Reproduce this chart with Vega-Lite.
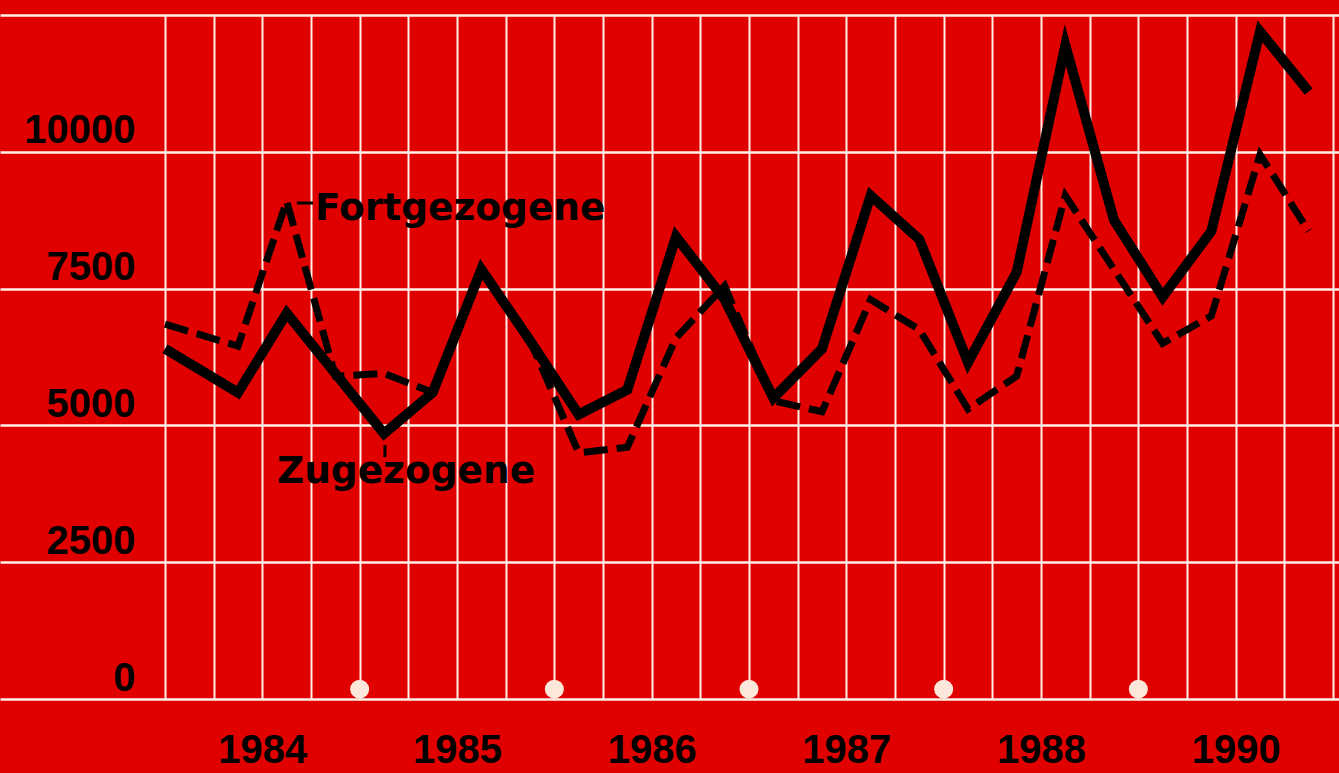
{
  "$schema": "https://vega.github.io/schema/vega-lite/v6.json",
  "width": 1339,
  "height": 684,
  "autosize": {"type": "none"},
  "padding": {"left": 0, "top": 15, "right": 0, "bottom": 74},
  "background": "#e10000",
  "config": {"view": {"stroke": null}},
  "datasets": {
    "series": [
      {"series": "Zugezogene", "t": 0, "value": 6400},
      {"series": "Zugezogene", "t": 1.5, "value": 5600},
      {"series": "Zugezogene", "t": 2.5, "value": 7050},
      {"series": "Zugezogene", "t": 3.5, "value": 5950},
      {"series": "Zugezogene", "t": 4.5, "value": 4850},
      {"series": "Zugezogene", "t": 5.5, "value": 5600},
      {"series": "Zugezogene", "t": 6.5, "value": 7850},
      {"series": "Zugezogene", "t": 7.5, "value": 6550},
      {"series": "Zugezogene", "t": 8.5, "value": 5200},
      {"series": "Zugezogene", "t": 9.5, "value": 5650},
      {"series": "Zugezogene", "t": 10.5, "value": 8450},
      {"series": "Zugezogene", "t": 11.5, "value": 7300},
      {"series": "Zugezogene", "t": 12.5, "value": 5500},
      {"series": "Zugezogene", "t": 13.5, "value": 6400},
      {"series": "Zugezogene", "t": 14.5, "value": 9200},
      {"series": "Zugezogene", "t": 15.5, "value": 8400},
      {"series": "Zugezogene", "t": 16.5, "value": 6150},
      {"series": "Zugezogene", "t": 17.5, "value": 7800},
      {"series": "Zugezogene", "t": 18.5, "value": 11950},
      {"series": "Zugezogene", "t": 19.5, "value": 8750},
      {"series": "Zugezogene", "t": 20.5, "value": 7350},
      {"series": "Zugezogene", "t": 21.5, "value": 8550},
      {"series": "Zugezogene", "t": 22.5, "value": 12200},
      {"series": "Zugezogene", "t": 23.5, "value": 11100},
      {"series": "Fortgezogene", "t": 0, "value": 6850},
      {"series": "Fortgezogene", "t": 1.5, "value": 6450},
      {"series": "Fortgezogene", "t": 2.5, "value": 9100},
      {"series": "Fortgezogene", "t": 3.5, "value": 5900},
      {"series": "Fortgezogene", "t": 4.5, "value": 5950},
      {"series": "Fortgezogene", "t": 5.5, "value": 5600},
      {"series": "Fortgezogene", "t": 6.5, "value": 7850},
      {"series": "Fortgezogene", "t": 7.5, "value": 6550},
      {"series": "Fortgezogene", "t": 8.5, "value": 4500},
      {"series": "Fortgezogene", "t": 9.5, "value": 4600},
      {"series": "Fortgezogene", "t": 10.5, "value": 6600},
      {"series": "Fortgezogene", "t": 11.5, "value": 7550},
      {"series": "Fortgezogene", "t": 12.5, "value": 5450},
      {"series": "Fortgezogene", "t": 13.5, "value": 5250},
      {"series": "Fortgezogene", "t": 14.5, "value": 7300},
      {"series": "Fortgezogene", "t": 15.5, "value": 6750},
      {"series": "Fortgezogene", "t": 16.5, "value": 5300},
      {"series": "Fortgezogene", "t": 17.5, "value": 5900},
      {"series": "Fortgezogene", "t": 18.5, "value": 9200},
      {"series": "Fortgezogene", "t": 19.5, "value": 7850},
      {"series": "Fortgezogene", "t": 20.5, "value": 6500},
      {"series": "Fortgezogene", "t": 21.5, "value": 7000},
      {"series": "Fortgezogene", "t": 22.5, "value": 9950},
      {"series": "Fortgezogene", "t": 23.5, "value": 8550}
    ],
    "markers": [
      {"t": 4, "value": 180},
      {"t": 8, "value": 180},
      {"t": 12, "value": 180},
      {"t": 16, "value": 180},
      {"t": 20, "value": 180}
    ],
    "notes": [
      {"label": "Fortgezogene", "t": 3.08, "value": 8754},
      {"label": "Zugezogene", "t": 2.3, "value": 3947}
    ],
    "leaders": [
      {"t": 2.71, "t2": 3.04, "value": 9064, "value2": 9064},
      {"t": 4.52, "t2": 4.52, "value": 4642, "value2": 4423}
    ]
  },
  "encoding": {
    "x": {
      "field": "t",
      "type": "quantitative",
      "scale": {"domain": [-3.3904, 24.123], "nice": false, "zero": false},
      "axis": {
        "orient": "bottom",
        "values": [0, 1, 2, 3, 4, 5, 6, 7, 8, 9, 10, 11, 12, 13, 14, 15, 16, 17, 18, 19, 20, 21, 22, 23, 24],
        "grid": true,
        "gridColor": "#fff0e8",
        "gridWidth": 2,
        "gridOpacity": 1,
        "ticks": false,
        "tickSize": 0,
        "domain": false,
        "labelPadding": 63,
        "labelBaseline": "alphabetic",
        "labelAlign": "center",
        "labelFont": "Liberation Sans",
        "labelFontWeight": "bold",
        "labelFontSize": 40,
        "labelColor": "#000000",
        "labelOverlap": false,
        "labelFlush": false,
        "labelExpr": "datum.value == 2 ? '1984' : datum.value == 6 ? '1985' : datum.value == 10 ? '1986' : datum.value == 14 ? '1987' : datum.value == 18 ? '1988' : datum.value == 22 ? '1990' : ''",
        "title": null
      }
    },
    "y": {
      "field": "value",
      "type": "quantitative",
      "scale": {"domain": [0, 12500], "nice": false, "zero": true},
      "axis": {
        "orient": "left",
        "values": [0, 2500, 5000, 7500, 10000, 12500],
        "grid": true,
        "gridColor": "#fff0e8",
        "gridWidth": 2.5,
        "gridOpacity": 1,
        "ticks": false,
        "tickSize": 0,
        "domain": false,
        "labelPadding": -135,
        "labelAlign": "right",
        "labelBaseline": "alphabetic",
        "labelOffset": -9,
        "labelFont": "Liberation Sans",
        "labelFontWeight": "bold",
        "labelFontSize": 40,
        "labelColor": "#000000",
        "labelOverlap": false,
        "labelFlush": false,
        "labelExpr": "datum.value >= 12500 ? '' : format(datum.value, 'd')",
        "title": null
      }
    }
  },
  "layer": [
    {
      "data": {"name": "markers"},
      "mark": {"type": "point", "shape": "circle", "filled": true, "size": 360, "color": "#fde6da", "opacity": 1}
    },
    {
      "data": {"name": "series"},
      "transform": [{"filter": "datum.series == 'Fortgezogene'"}],
      "mark": {"type": "line", "stroke": "#000000", "strokeWidth": 7, "strokeDash": [24, 9], "strokeCap": "butt", "strokeJoin": "miter", "strokeMiterLimit": 10}
    },
    {
      "data": {"name": "series"},
      "transform": [{"filter": "datum.series == 'Zugezogene'"}],
      "mark": {"type": "line", "stroke": "#000000", "strokeWidth": 10, "strokeCap": "butt", "strokeJoin": "miter", "strokeMiterLimit": 10}
    },
    {
      "data": {"name": "leaders"},
      "mark": {"type": "rule", "stroke": "#000000", "strokeWidth": 3},
      "encoding": {
        "x2": {"field": "t2"},
        "y2": {"field": "value2"}
      }
    },
    {
      "data": {"name": "notes"},
      "mark": {"type": "text", "align": "left", "baseline": "alphabetic", "font": "DejaVu Sans", "fontWeight": "bold", "fontSize": 37.5, "color": "#000000"},
      "encoding": {
        "text": {"field": "label"}
      }
    }
  ]
}
